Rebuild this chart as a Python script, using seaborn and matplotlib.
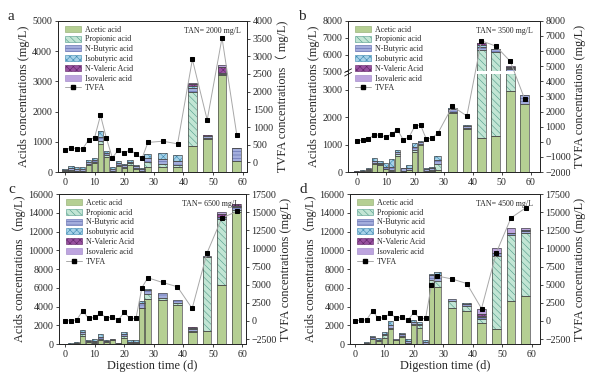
import numpy as np
import matplotlib
matplotlib.use("Agg")
import matplotlib.pyplot as plt
import seaborn as sns
from matplotlib.patches import Patch
from matplotlib.lines import Line2D

days = [0, 2, 4, 6, 8, 10, 12, 14, 16, 18, 20, 22, 24, 26, 28, 33, 38, 43, 48, 53, 58]

# panel a, TAN 2000
acetic_a = [15, 40, 30, 30, 220, 300, 930, 500, 20, 200, 130, 250, 100, 30, 180, 170, 160, 850, 1080, 3220, 380]
propionic_a = [10, 20, 20, 20, 40, 40, 100, 60, 10, 40, 30, 40, 30, 10, 150, 100, 80, 1810, 60, 30, 0]
butyric_a = [45, 70, 50, 50, 70, 60, 130, 70, 80, 70, 60, 50, 60, 60, 120, 170, 140, 110, 60, 20, 400]
isobutyric_a = [40, 57, 54, 54, 70, 70, 200, 70, 55, 60, 55, 45, 50, 43, 150, 197, 180, 60, 0, 0, 10]
valeric_a = [0, 0, 0, 0, 0, 0, 0, 0, 0, 0, 0, 0, 0, 0, 0, 0, 0, 70, 30, 200, 0]
isovaleric_a = [0, 0, 0, 0, 0, 0, 0, 0, 0, 0, 0, 0, 0, 0, 0, 0, 0, 34, 0, 70, 0]
tvfa_a = [340, 420, 385, 385, 640, 700, 1330, 680, 130, 350, 255, 365, 225, 115, 565, 600, 525, 2910, 1200, 3520, 770]

# panel b, TAN 3500
acetic_b = [10, 20, 40, 290, 240, 120, 50, 600, 30, 60, 720, 1000, 30, 40, 80, 2150, 1560, 1250, 1320, 2980, 2500]
propionic_b = [5, 10, 20, 30, 40, 10, 20, 60, 7, 20, 100, 40, 15, 20, 230, 60, 40, 5020, 4800, 2000, 0]
butyric_b = [15, 25, 45, 85, 60, 70, 120, 70, 100, 60, 100, 60, 70, 80, 140, 100, 100, 150, 180, 150, 320]
isobutyric_b = [6, 15, 40, 100, 70, 113, 280, 90, 20, 100, 130, 20, 30, 40, 130, 40, 35, 130, 0, 60, 0]
valeric_b = [0, 0, 0, 0, 0, 0, 0, 0, 0, 0, 0, 0, 0, 0, 0, 0, 0, 150, 50, 90, 0]
isovaleric_b = [0, 0, 0, 0, 0, 0, 0, 0, 0, 0, 0, 0, 0, 0, 0, 0, 0, 0, 0, 20, 0]
tvfa_b = [50, 110, 175, 480, 420, 330, 505, 810, 150, 290, 1030, 1120, 175, 260, 570, 2350, 1710, 6680, 6330, 5320, 2810]

# panel c, TAN 6500
acetic_c = [10, 20, 60, 900, 200, 100, 450, 180, 400, 50, 700, 150, 150, 3800, 4850, 4700, 4200, 1300, 1450, 6300, 14100]
propionic_c = [5, 10, 20, 150, 0, 100, 100, 0, 50, 20, 150, 0, 0, 100, 450, 250, 150, 50, 7800, 7000, 200]
butyric_c = [15, 25, 60, 240, 100, 150, 230, 130, 60, 50, 200, 130, 130, 490, 450, 460, 380, 300, 180, 200, 350]
isobutyric_c = [10, 15, 60, 200, 100, 250, 250, 150, 60, 50, 200, 150, 150, 200, 150, 0, 0, 50, 0, 100, 100]
valeric_c = [0, 0, 0, 0, 0, 0, 0, 0, 0, 0, 0, 0, 0, 0, 0, 0, 0, 110, 0, 300, 200]
isovaleric_c = [0, 0, 0, 0, 0, 0, 0, 0, 0, 0, 0, 0, 0, 0, 0, 0, 0, 0, 0, 200, 0]
tvfa_c = [30, 30, 160, 1400, 350, 490, 1040, 440, 530, 120, 1180, 350, 350, 4580, 5960, 5310, 4720, 1730, 9360, 14180, 15100]

# panel d, TAN 4500
acetic_d = [10, 15, 50, 500, 350, 700, 1600, 450, 800, 100, 2000, 1700, 50, 6200, 6100, 3900, 3550, 2300, 1650, 4600, 5150]
propionic_d = [5, 10, 0, 100, 0, 250, 100, 0, 100, 0, 150, 300, 0, 600, 600, 700, 500, 350, 7700, 7000, 6650]
butyric_d = [15, 20, 100, 150, 140, 180, 300, 130, 170, 220, 220, 170, 220, 600, 680, 180, 190, 200, 350, 200, 250]
isobutyric_d = [10, 15, 100, 150, 150, 200, 500, 0, 150, 200, 150, 200, 150, 100, 300, 0, 100, 150, 0, 50, 150]
valeric_d = [0, 0, 0, 0, 0, 0, 0, 0, 0, 0, 0, 0, 0, 0, 0, 0, 0, 200, 0, 0, 0]
isovaleric_d = [0, 0, 0, 0, 0, 0, 0, 0, 0, 0, 0, 0, 0, 0, 0, 0, 0, 570, 580, 500, 150]
tvfa_d = [50, 90, 180, 1390, 350, 490, 1040, 400, 530, 80, 1180, 350, 350, 5010, 6200, 5790, 5160, 1710, 9390, 14210, 15600]

acid_names = ["Acetic acid", "Propionic acid", "N-Butyric acid",
              "Isobutyric acid", "N-Valeric Acid", "Isovaleric acid"]
face = ["#b5cf93", "#c2e5d4", "#a3addc", "#a6d2e8", "#98509f", "#bda4de"]
hcol = ["#8aa86a", "#4f9a88", "#5b66aa", "#3c88b0", "#5e2466", "#9a80c4"]
hatches = [None, "\\\\\\\\\\", "-----", "xxxxx", "xxxxx", None]

sns.set_theme(style="ticks")
plt.rcParams["font.family"] = ["Liberation Serif", "Noto Sans CJK SC"]
plt.rcParams["hatch.linewidth"] = 0.4
plt.rcParams["axes.linewidth"] = 0.7

fig = plt.figure(figsize=(5.9, 3.79), dpi=100)


def bar_width(t):
    if t < 26:
        return 1.8
    if t == 26:
        return 2.0
    if t == 28:
        return 2.4
    return 3.0


def draw(pos, acids, tvfa, xlim, lims_l, ticks_l, lims_r, ticks_r, tan,
         letter, lab_l, lab_r, xlabel=True, broken=False):
    ax = fig.add_axes(pos)
    x = np.array(days, float)
    w = np.array([bar_width(t) for t in days])
    bottom = np.zeros(len(days))
    for vals, fc, hc, h in zip(acids, face, hcol, hatches):
        v = np.array(vals, float)
        m = v > 0
        ax.bar(x[m], v[m], width=w[m], bottom=bottom[m], color=fc,
               edgecolor=hc, hatch=h, linewidth=0, zorder=2)
        ax.bar(x[m], v[m], width=w[m], bottom=bottom[m], facecolor="none",
               edgecolor="#4a4a4a", linewidth=0.5, zorder=2.1)
        bottom += v

    if broken:
        b1, b2, gap, k = 3600.0, 5000.0, 80.0, 0.615

        def fwd(v):
            v = np.asarray(v, float)
            return np.where(v <= b1, v, np.where(v < b2, b1 + (v - b1) * gap / (b2 - b1),
                                                 b1 + gap + (v - b2) * k))

        def inv(u):
            u = np.asarray(u, float)
            return np.where(u <= b1, u, np.where(u < b1 + gap, b1 + (u - b1) * (b2 - b1) / gap,
                                                 b2 + (u - b1 - gap) / k))

        ax.set_yscale("function", functions=(fwd, inv))
        ax.axhspan(b1, b2, color="white", zorder=5, lw=0)
        yb = float(fwd(b1 + 0.5 * (b2 - b1)) / fwd(8000))
        for dy in (-0.012, 0.012):
            ax.plot([-0.018, 0.018], [yb + dy - 0.012, yb + dy + 0.012],
                    transform=ax.transAxes, clip_on=False, color="k", lw=0.6, zorder=6)

    ax.set_xlim(*xlim)
    ax.set_ylim(*lims_l)
    ax.set_yticks(ticks_l)
    ax.set_xticks(range(0, 61, 10))
    ax.tick_params(direction="out", length=2.5, width=0.6, labelsize=7.2, pad=1.5)
    ax.set_ylabel(lab_l, fontsize=8.8, labelpad=1.5)
    if xlabel:
        ax.set_xlabel("Digestion time (d)", fontsize=8.8, labelpad=1)

    ax2 = ax.twinx()
    sns.lineplot(x=days, y=tvfa, ax=ax2, color="#a8a8a8", lw=0.7, marker="s",
                 markersize=3.2, markerfacecolor="black", markeredgecolor="black",
                 zorder=7)
    ax2.set_ylim(*lims_r)
    ax2.set_yticks(ticks_r)
    ax2.tick_params(direction="out", length=2.5, width=0.6, labelsize=7.2, pad=1.5)
    ax2.set_ylabel(lab_r, fontsize=8.8, labelpad=2)
    ax2.set_xlabel("")

    handles = [Patch(facecolor=fc, edgecolor=hc, hatch=h, linewidth=0.4)
               for fc, hc, h in zip(face, hcol, hatches)]
    handles.append(Line2D([], [], color="#a8a8a8", lw=0.7, marker="s",
                          markersize=2.8, markerfacecolor="black", markeredgecolor="black"))
    ax2.legend(handles, acid_names + ["TVFA"], loc="upper left", bbox_to_anchor=(0.01, 1.0),
               frameon=False, fontsize=5.8, labelspacing=0.22, handlelength=2.0,
               handleheight=0.75, handletextpad=0.5, borderaxespad=0.2)
    ax2.text(0.965, 0.935, tan, transform=ax2.transAxes, ha="right", va="center",
             fontsize=5.7)
    fig.text(pos[0] - 0.085, pos[1] + pos[3] + 0.012, letter, fontsize=11, va="center")
    return ax, ax2


draw([0.098, 0.546, 0.321, 0.399],
     [acetic_a, propionic_a, butyric_a, isobutyric_a, valeric_a, isovaleric_a], tvfa_a,
     (-2.4, 61.5), (0, 5000), range(0, 5001, 1000), (-272, 4000), range(0, 4001, 500),
     "TAN= 2000 mg/L", "a", "Acids concentrations (mg/L)", "TVFA concentrations（ mg/L)",
     xlabel=False)

draw([0.590, 0.546, 0.325, 0.399],
     [acetic_b, propionic_b, butyric_b, isobutyric_b, valeric_b, isovaleric_b], tvfa_b,
     (-3.0, 63.2), (0, 8000), [0, 1000, 2000, 3000, 5000, 6000, 7000, 8000],
     (-2000, 8000), range(-2000, 8001, 1000),
     "TAN= 3500 mg/L", "b", "Acids concentrations (mg/L)", "TVFA concentrations (mg/L)",
     xlabel=False, broken=True)

draw([0.100, 0.092, 0.317, 0.396],
     [acetic_c, propionic_c, butyric_c, isobutyric_c, valeric_c, isovaleric_c], tvfa_c,
     (-2.0, 61.2), (0, 16000), range(0, 16001, 2000), (-3190, 17500), range(-2500, 17501, 2500),
     "TAN= 6500 mg/L", "c", "Acids concentrations（mg/L)", "TVFA concentrations (mg/L)")

draw([0.593, 0.092, 0.322, 0.396],
     [acetic_d, propionic_d, butyric_d, isobutyric_d, valeric_d, isovaleric_d], tvfa_d,
     (-1.7, 62.8), (0, 16000), range(0, 16001, 2000), (-3190, 17500), range(-2500, 17501, 2500),
     "TAN= 4500 mg/L", "d", "Acids concentrations（mg/L)", "TVFA concentrations (mg/L)")

fig.savefig("out.png", dpi=100)
